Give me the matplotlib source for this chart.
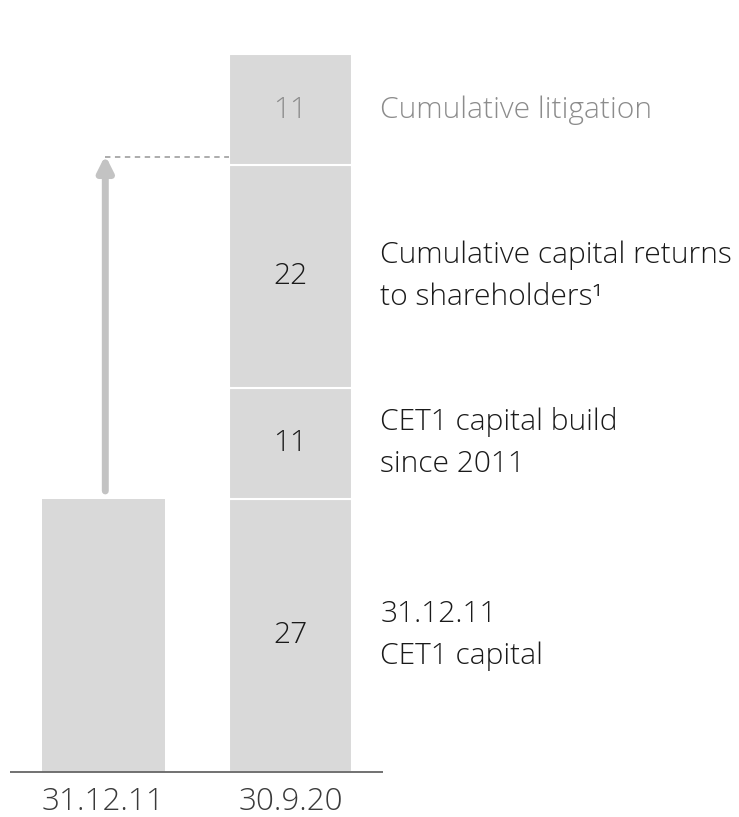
import matplotlib
matplotlib.use("Agg")
import matplotlib.pyplot as plt

categories = ["31.12.11", "30.9.20"]
base_values = [27, 27]
stack_segments = [11, 22, 11]   # CET1 build, capital returns, litigation (30.9.20 only)
segment_labels = ["31.12.11\nCET1 capital", "CET1 capital build\nsince 2011",
                  "Cumulative capital returns\nto shareholders\u00b9", "Cumulative litigation"]

plt.rcParams['font.family'] = ['Open Sans', 'DejaVu Sans']

fig = plt.figure(figsize=(7.39, 8.17), dpi=100)
ax = fig.add_axes([0, 0, 1, 1])
ax.set_xlim(-0.553, 3.398)
ax.set_ylim(-4.45, 76.36)
ax.axis('off')

bar_color = '#d9d9d9'
w = 0.658
fs = 21.6
fw = 'light'
x = list(range(len(categories)))

# bar 1
ax.bar(x[0], base_values[0], width=w, color=bar_color, edgecolor='none')
# bar 2 stacked
bottoms = [0]
vals2 = [base_values[1]] + stack_segments
for v in vals2[:-1]:
    bottoms.append(bottoms[-1] + v)
for i, (b, v) in enumerate(zip(bottoms, vals2)):
    ax.bar(x[1], v, bottom=b, width=w, color=bar_color, edgecolor='white', linewidth=1.5)
    col = '#8c8c8c' if i == len(vals2) - 1 else '#1a1a1a'
    ax.text(x[1], b + v / 2, str(v), ha='center', va='center', fontsize=fs,
            color=col, fontweight=fw)
    ax.text(x[1] + 0.48, b + v / 2, segment_labels[i], ha='left', va='center',
            fontsize=fs, color=col, linespacing=1.55, fontweight=fw)

# baseline
ax.plot([-0.5, 1.495], [0, 0], color='#666666', linewidth=1.3, solid_capstyle='butt')

# category labels
for xi, c in zip(x, categories):
    ax.text(xi, -3.0, c, ha='center', va='center', fontsize=fs + 1,
            color='#3a3a3a', fontweight=fw)

# arrow and dashed line
top_level = base_values[1] + stack_segments[0] + stack_segments[1]
ax.annotate('', xy=(x[0] + 0.01, top_level + 1.0), xytext=(x[0] + 0.01, base_values[0] + 0.8),
            arrowprops=dict(arrowstyle='-|>,head_length=0.9,head_width=0.45',
                            color='#c3c3c3', lw=5, shrinkA=0, shrinkB=0))
ax.plot([x[0] + 0.01, x[1] - w / 2], [top_level + 0.8, top_level + 0.8],
        color='#a6a6a6', linewidth=1.3, linestyle=(0, (3, 2.5)))

fig.savefig('out.png', dpi=100)
